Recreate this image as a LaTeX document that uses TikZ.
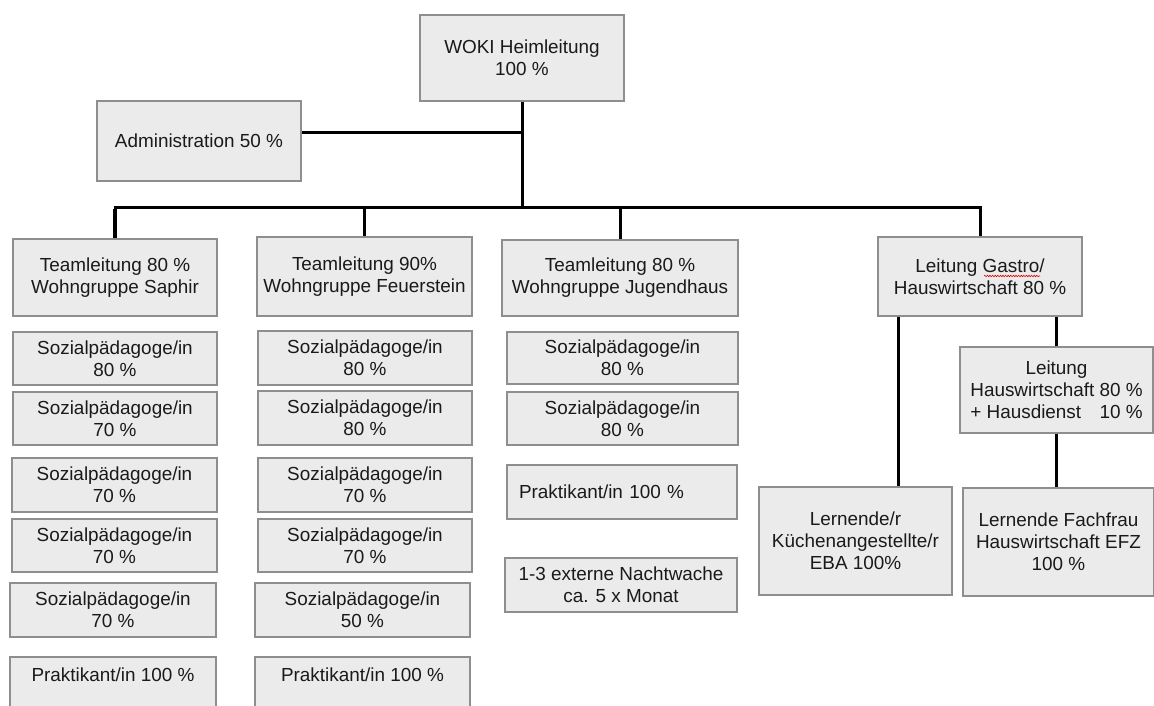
\documentclass[tikz,border=0pt]{standalone}
\usepackage{fontspec}
\setmainfont{Liberation Sans}
\usepackage{calc}
\usetikzlibrary{decorations.pathmorphing}
\definecolor{boxfill}{HTML}{EBEBEB}
\definecolor{boxline}{HTML}{8E8E8E}
\definecolor{txt}{HTML}{1A1A1A}
\newcommand\orgbox[7][]{\node[orgbox, minimum width={(#5-#3)*1pt}, minimum height={(#6-#4)*1pt}, #1] (#2) at ({(#3+#5)/2},{(#4+#6)/2}) {#7};}
\tikzset{
  orgbox/.style={draw=boxline, fill=boxfill, line width=1.2pt, inner sep=0pt, align=center, text=txt,
    font=\fontsize{18.9}{22}\selectfont},
  conn/.style={line width=3pt, black},
  topalign/.style={text height=24pt, text depth=31pt},
}
\begin{document}
\begin{tikzpicture}[x=1pt, y=-1pt]
\useasboundingbox[fill=white] (0,0) rectangle (1154,706);
% top
\orgbox{woki}{420}{15}{624}{101}{WOKI Heimleitung\\100 \%}
\orgbox{admin}{97}{101}{301}{181}{Administration 50 \%}
% team leads
\orgbox{saphir}{13}{239}{217}{316}{Teamleitung 80 \%\\Wohngruppe Saphir}
\orgbox{feuer}{257}{237}{472}{316}{Teamleitung 90\%\\Wohngruppe Feuerstein}
\orgbox{jugend}{502}{240}{738}{316}{Teamleitung 80 \%\\Wohngruppe Jugendhaus}
\orgbox{gastro}{878}{237}{1082}{316}{Leitung Gastro/\\Hauswirtschaft 80 \%}
% column Saphir
\orgbox{sa}{13}{332}{217}{385}{Sozialpädagoge/in\\80 \%}
\orgbox{sb}{13}{392}{217}{445}{Sozialpädagoge/in\\70 \%}
\orgbox{sc}{12}{458}{217}{512}{Sozialpädagoge/in\\70 \%}
\orgbox{sd}{12}{519}{217}{572}{Sozialpädagoge/in\\70 \%}
\orgbox{se}{10}{583}{216}{637}{Sozialpädagoge/in\\70 \%}
\orgbox[topalign]{sp}{10}{657}{216}{712}{Praktikant/in 100 \%}
% column Feuerstein
\orgbox{fa}{258}{331}{472}{385}{Sozialpädagoge/in\\80 \%}
\orgbox{fb}{258}{391}{472}{445}{Sozialpädagoge/in\\80 \%}
\orgbox{fc}{258}{458}{472}{512}{Sozialpädagoge/in\\70 \%}
\orgbox{fd}{258}{519}{472}{572}{Sozialpädagoge/in\\70 \%}
\orgbox{fe}{255}{583}{470}{637}{Sozialpädagoge/in\\50 \%}
\orgbox[topalign]{fp}{255}{657}{470}{712}{Praktikant/in 100 \%}
% column Jugendhaus
\orgbox{ja}{507}{332}{738}{384}{Sozialpädagoge/in\\80 \%}
\orgbox{jb}{507}{392}{738}{445}{Sozialpädagoge/in\\80 \%}
\orgbox[align=left, text width=206pt]{jp}{507}{465}{737}{519}{Praktikant/in 100 \%}
\orgbox{jn}{505}{558}{737}{612}{1-3 externe Nachtwache\\ca. 5 x Monat}
% Gastro branch
\orgbox{lhw}{960}{347}{1153}{433}{Leitung\\Hauswirtschaft 80 \%\\\makebox[\widthof{Hauswirtschaft 80 \%}][l]{+ Hausdienst\hfill 10 \%}}
\orgbox{lk}{759}{487}{952}{595}{Lernende/r\\Küchenangestellte/r\\EBA 100\%}
\orgbox{lf}{963}{488}{1154}{596}{Lernende Fachfrau\\Hauswirtschaft EFZ\\100 \%}
% spell-check squiggle under "Gastro"
\draw[red!85!black, line width=0.6pt, decorate, decoration={snake, amplitude=0.7pt, segment length=2.6pt}] (984,276) -- (1040,276);
% connectors
\path (woki.south) ++(0,31) coordinate (hj);
\path (woki.south) ++(0,106) coordinate (bus);
\draw[conn] (woki.south) -- (bus);
\draw[conn] (hj) -- (hj -| admin.east);
\draw[conn] (saphir.north) -- (saphir.north |- bus) -- (gastro.north |- bus) -- (gastro.north);
\draw[line width=4.5pt, black] (saphir.north) -- ([yshift=-1.5pt]saphir.north |- bus);
\draw[conn] (feuer.north) -- (feuer.north |- bus);
\draw[conn] (jugend.north) -- (jugend.north |- bus);
\coordinate (gl) at (898,316);
\draw[conn] (gastro.south -| gl) -- (lk.north -| gl);
\draw[conn] (lhw.north) -- (lhw.north |- gastro.south);
\draw[conn] (lhw.south) -- (lhw.south |- lf.north);
\end{tikzpicture}
\end{document}
